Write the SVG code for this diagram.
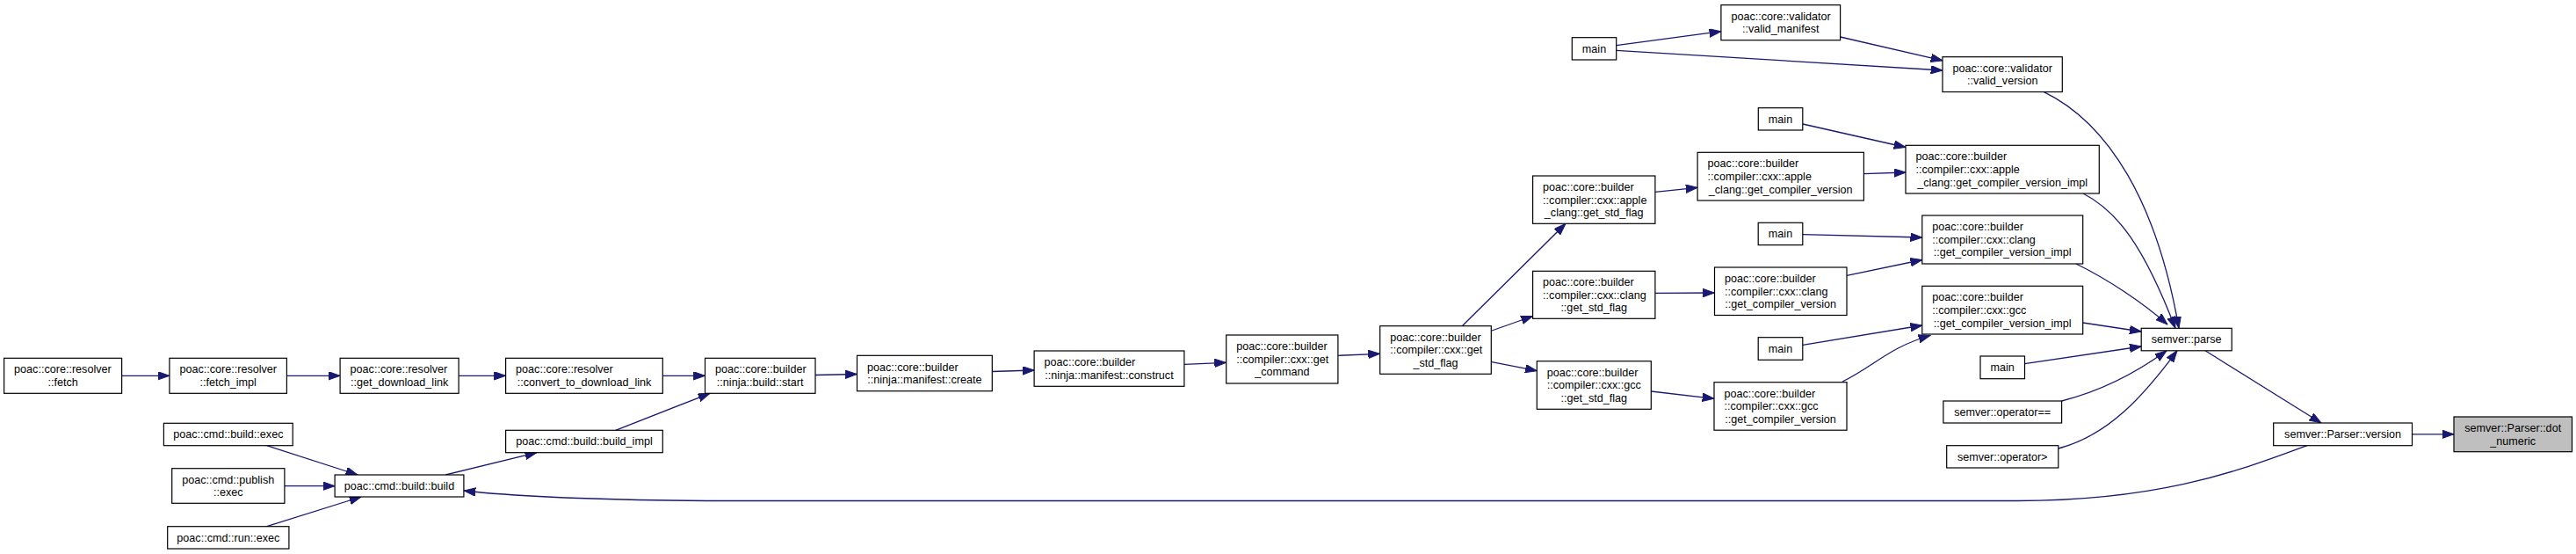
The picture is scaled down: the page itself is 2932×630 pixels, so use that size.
<svg xmlns="http://www.w3.org/2000/svg" width="2932" height="630" viewBox="0 0 2932 630">
<style>
.n rect{fill:#fff;stroke:#000;stroke-width:1.2}
.n.root rect{fill:#bfbfbf}
text{font-family:"Liberation Sans",Arial,Helvetica,sans-serif;font-size:12.6px;fill:#000}
.c{text-anchor:middle}
.e path{fill:none;stroke:#191970;stroke-width:1.3;marker-end:url(#ah)}
</style>
<defs>
<marker id="ah" markerUnits="userSpaceOnUse" markerWidth="14" markerHeight="10" refX="13.3" refY="4.7" orient="auto">
<path d="M0,0 L13.3,4.7 L0,9.4 z" fill="#191970" stroke="#191970" stroke-width="1"/>
</marker>
</defs>
<rect width="2932" height="630" fill="#fff"/>
<g id="edges" class="e">
<path d="M138.6,427.3 L192.9,427.3"/>
<path d="M326.4,427.3 L387.1,427.3"/>
<path d="M522.1,427.3 L575.6,427.3"/>
<path d="M754.3,427.3 L802.5,427.3"/>
<path d="M928,426.5 L975.5,425.5"/>
<path d="M1129.3,422.5 L1177.1,421"/>
<path d="M1347.9,414.3 L1395.7,412.3"/>
<path d="M1522.9,404.3 L1570.7,402.3"/>
<path d="M1664,371 L1782,254.3"/>
<path d="M1698,376 L1744.6,359.5"/>
<path d="M1698,411.7 L1749.3,421.7"/>
<path d="M1883.9,218.3 L1932.1,213.3"/>
<path d="M1883.9,333.3 L1951.5,333"/>
<path d="M1879.3,445 L1951,453.3"/>
<path d="M2121.4,197.7 L2169,196"/>
<path d="M2051.8,141 L2169,167.5"/>
<path d="M2102,313.3 L2187.8,295.5"/>
<path d="M2051.8,266.7 L2187.8,270"/>
<path d="M2097,434 C2135,415 2150,395 2197,381.5"/>
<path d="M2051.8,392.3 L2187.8,370"/>
<path d="M1839.7,51.7 L1958.9,35.7"/>
<path d="M1839.7,57.3 L2211,80"/>
<path d="M2094.6,42 L2211,68.8"/>
<path d="M2326,104.3 C2400,140 2455,230 2480,373.3"/>
<path d="M2371,220 C2410,240 2440,280 2476,373.3"/>
<path d="M2363,300 C2400,318 2440,345 2467,369"/>
<path d="M2370.7,367 L2437.2,377"/>
<path d="M2304.5,413.7 L2437.2,394"/>
<path d="M2346.6,456 C2390,445 2430,425 2466,398.8"/>
<path d="M2342.8,510 C2400,495 2440,450 2478,398.8"/>
<path d="M2510,398.8 L2642,481"/>
<path d="M2745.5,493.8 L2793,493.8"/>
<path d="M2626,506.7 C2560,530 2470,569.5 2296,569.5 L850,569.5 C700,569.5 600,566 527.9,558"/>
<path d="M303.6,506.7 L407,540"/>
<path d="M323.9,552.7 L381.1,552.7"/>
<path d="M303.6,598.7 L411,565"/>
<path d="M507,540 L611,514.7"/>
<path d="M700.7,489.3 L808,447.3"/>
</g>
<g id="fetch" class="n"><rect x="4.6" y="407.3" width="134" height="40"/><text x="16.1" y="424.3">poac::core::resolver</text><text class="c" x="71.6" y="438.9">::fetch</text></g>
<g id="fetch_impl" class="n"><rect x="192.9" y="407.3" width="133.5" height="40"/><text x="204.4" y="424.3">poac::core::resolver</text><text class="c" x="259.7" y="438.9">::fetch_impl</text></g>
<g id="get_download_link" class="n"><rect x="387.1" y="407.3" width="135" height="40"/><text x="398.6" y="424.3">poac::core::resolver</text><text class="c" x="454.6" y="438.9">::get_download_link</text></g>
<g id="convert_to_download_link" class="n"><rect x="575.6" y="407.3" width="178.7" height="40"/><text x="587.1" y="424.3">poac::core::resolver</text><text class="c" x="665" y="438.9">::convert_to_download_link</text></g>
<g id="ninja_build_start" class="n"><rect x="802.5" y="407.3" width="125.5" height="40"/><text x="814" y="424.3">poac::core::builder</text><text class="c" x="865.2" y="438.9">::ninja::build::start</text></g>
<g id="ninja_manifest_create" class="n"><rect x="975.5" y="404.3" width="153.8" height="40.4"/><text x="987" y="421.5">poac::core::builder</text><text class="c" x="1052.4" y="436.1">::ninja::manifest::create</text></g>
<g id="ninja_manifest_construct" class="n"><rect x="1177.1" y="399" width="170.8" height="40.3"/><text x="1188.6" y="416.2">poac::core::builder</text><text class="c" x="1262.5" y="430.8">::ninja::manifest::construct</text></g>
<g id="cxx_get_command" class="n"><rect x="1395.7" y="381" width="127.2" height="55"/><text x="1407.2" y="398.2">poac::core::builder</text><text x="1407.2" y="412.8">::compiler::cxx::get</text><text class="c" x="1459.3" y="427.4">_command</text></g>
<g id="cxx_get_std_flag" class="n"><rect x="1570.7" y="370.7" width="126.6" height="54.6"/><text x="1582.2" y="387.7">poac::core::builder</text><text x="1582.2" y="402.3">::compiler::cxx::get</text><text class="c" x="1634" y="416.9">_std_flag</text></g>
<g id="apple_clang_get_std_flag" class="n"><rect x="1744.6" y="200" width="139.3" height="54.3"/><text x="1756.1" y="216.9">poac::core::builder</text><text x="1756.1" y="231.5">::compiler::cxx::apple</text><text class="c" x="1814.2" y="246.1">_clang::get_std_flag</text></g>
<g id="clang_get_std_flag" class="n"><rect x="1744.6" y="308.3" width="139.3" height="54"/><text x="1756.1" y="325">poac::core::builder</text><text x="1756.1" y="339.6">::compiler::cxx::clang</text><text class="c" x="1814.2" y="354.2">::get_std_flag</text></g>
<g id="gcc_get_std_flag" class="n"><rect x="1749.3" y="410.7" width="130" height="54.6"/><text x="1760.8" y="427.7">poac::core::builder</text><text x="1760.8" y="442.3">::compiler::cxx::gcc</text><text class="c" x="1814.3" y="456.9">::get_std_flag</text></g>
<g id="apple_clang_get_compiler_version" class="n"><rect x="1932.1" y="173.3" width="189.3" height="54.7"/><text x="1943.6" y="190.4">poac::core::builder</text><text x="1943.6" y="205">::compiler::cxx::apple</text><text class="c" x="2026.7" y="219.6">_clang::get_compiler_version</text></g>
<g id="clang_get_compiler_version" class="n"><rect x="1951.5" y="304" width="150.5" height="54.5"/><text x="1963" y="321">poac::core::builder</text><text x="1963" y="335.6">::compiler::cxx::clang</text><text class="c" x="2026.7" y="350.2">::get_compiler_version</text></g>
<g id="gcc_get_compiler_version" class="n"><rect x="1951" y="434.7" width="151" height="54.5"/><text x="1962.5" y="451.7">poac::core::builder</text><text x="1962.5" y="466.3">::compiler::cxx::gcc</text><text class="c" x="2026.5" y="480.9">::get_compiler_version</text></g>
<g id="main_1" class="n"><rect x="1789.3" y="42.7" width="50.4" height="25.3"/><text class="c" x="1814.5" y="59.7">main</text></g>
<g id="valid_manifest" class="n"><rect x="1958.9" y="5.7" width="135.7" height="40"/><text x="1970.4" y="22.7">poac::core::validator</text><text class="c" x="2026.7" y="37.3">::valid_manifest</text></g>
<g id="valid_version" class="n"><rect x="2211" y="64.7" width="136.3" height="39.8"/><text x="2222.5" y="81.6">poac::core::validator</text><text class="c" x="2279.2" y="96.2">::valid_version</text></g>
<g id="main_2" class="n"><rect x="2001.3" y="122.7" width="50.5" height="25.3"/><text class="c" x="2026.5" y="139.7">main</text></g>
<g id="apple_clang_get_compiler_version_impl" class="n"><rect x="2169" y="165.3" width="220.3" height="54.7"/><text x="2180.5" y="182.4">poac::core::builder</text><text x="2180.5" y="197">::compiler::cxx::apple</text><text class="c" x="2279.2" y="211.6">_clang::get_compiler_version_impl</text></g>
<g id="main_3" class="n"><rect x="2001.2" y="253.3" width="50.6" height="25.3"/><text class="c" x="2026.5" y="270.3">main</text></g>
<g id="clang_get_compiler_version_impl" class="n"><rect x="2187.8" y="245" width="182.9" height="55"/><text x="2199.3" y="262.2">poac::core::builder</text><text x="2199.3" y="276.8">::compiler::cxx::clang</text><text class="c" x="2279.2" y="291.4">::get_compiler_version_impl</text></g>
<g id="gcc_get_compiler_version_impl" class="n"><rect x="2187.8" y="325.3" width="182.9" height="54.7"/><text x="2199.3" y="342.4">poac::core::builder</text><text x="2199.3" y="357">::compiler::cxx::gcc</text><text class="c" x="2279.2" y="371.6">::get_compiler_version_impl</text></g>
<g id="main_4" class="n"><rect x="2001.2" y="383.7" width="50.6" height="25.6"/><text class="c" x="2026.5" y="400.8">main</text></g>
<g id="main_5" class="n"><rect x="2254" y="405" width="50.5" height="25.7"/><text class="c" x="2279.2" y="422.2">main</text></g>
<g id="semver_operator_eq" class="n"><rect x="2211.9" y="456" width="134.7" height="25"/><text class="c" x="2279.2" y="472.8">semver::operator==</text></g>
<g id="semver_operator_gt" class="n"><rect x="2215.7" y="506.7" width="127.1" height="25.3"/><text class="c" x="2279.2" y="523.7">semver::operator&gt;</text></g>
<g id="semver_parse" class="n"><rect x="2437.2" y="373.3" width="103" height="25.5"/><text class="c" x="2488.7" y="390.4">semver::parse</text></g>
<g id="semver_parser_version" class="n"><rect x="2587.7" y="481" width="157.8" height="25.7"/><text class="c" x="2666.6" y="498.2">semver::Parser::version</text></g>
<g id="semver_parser_dot_numeric" class="n root"><rect x="2793" y="474" width="134.5" height="39.7"/><text class="c" x="2860.2" y="490.9">semver::Parser::dot</text><text class="c" x="2860.2" y="505.5">_numeric</text></g>
<g id="cmd_build_exec" class="n"><rect x="186.4" y="481.3" width="146.8" height="25.4"/><text class="c" x="259.8" y="498.3">poac::cmd::build::exec</text></g>
<g id="cmd_publish_exec" class="n"><rect x="195.7" y="532.7" width="128.2" height="39.6"/><text x="207.2" y="549.5">poac::cmd::publish</text><text class="c" x="259.8" y="564.1">::exec</text></g>
<g id="cmd_build_build" class="n"><rect x="381.1" y="540" width="146.8" height="25"/><text class="c" x="454.5" y="556.8">poac::cmd::build::build</text></g>
<g id="cmd_run_exec" class="n"><rect x="190.7" y="598.7" width="138.2" height="25.3"/><text class="c" x="259.8" y="615.7">poac::cmd::run::exec</text></g>
<g id="cmd_build_build_impl" class="n"><rect x="575.6" y="489.3" width="178.7" height="25.4"/><text class="c" x="665" y="506.3">poac::cmd::build::build_impl</text></g>
</svg>
